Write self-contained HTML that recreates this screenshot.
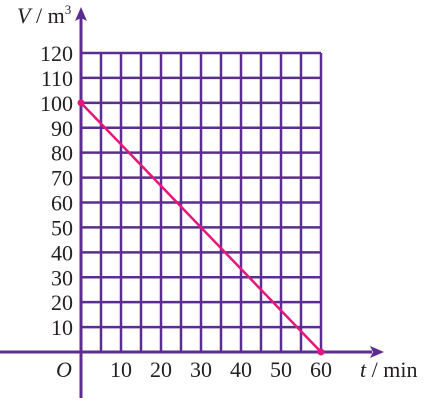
<!DOCTYPE html>
<html><head><meta charset="utf-8"><style>
html,body{margin:0;padding:0;background:#fff;}
svg text{font-family:"Liberation Serif",serif;font-size:22px;fill:#231f20;}
</style></head><body>
<svg width="440" height="406" viewBox="0 0 440 406">
<g id="grid"></g>
<g id="axes">
<line x1="0" y1="352" x2="372" y2="352" stroke="#5c2d91" stroke-width="3"/>
<polygon points="384,352 370,346 373,352 370,358" fill="#5c2d91"/>
<line x1="81" y1="398" x2="81" y2="18" stroke="#5c2d91" stroke-width="3"/>
<polygon points="81,7 75,21 81,18 87,21" fill="#5c2d91"/>
</g>
<g id="labels"></g>
<text x="17" y="23"><tspan font-style="italic">V</tspan> / m<tspan font-size="13" dy="-9">3</tspan></text>
<text x="360" y="377"><tspan font-style="italic">t</tspan> / min</text>
<text x="56" y="377" font-style="italic">O</text>
<g id="series"></g>
</svg>
<script>
const xTicks=[10,20,30,40,50,60];
const yTicks=[10,20,30,40,50,60,70,80,90,100,110,120];
const seriesT=[0,60];
const seriesV=[100,0];
const NS="http://www.w3.org/2000/svg";
const X=t=>81+t*4;
const Y=v=>352-v*299/120;
function mk(tag,attrs,parent){const e=document.createElementNS(NS,tag);for(const k in attrs)e.setAttribute(k,attrs[k]);parent.appendChild(e);return e;}
const grid=document.getElementById('grid');
for(let t=5;t<=60;t+=5){const l=mk('line',{x1:X(t),x2:X(t),y1:Y(120),y2:Y(0),stroke:'#5c2d91','stroke-width':2.5},grid);

}
yTicks.forEach(v=>{const l=mk('line',{x1:X(0),x2:X(60),y1:Y(v),y2:Y(v),stroke:'#5c2d91','stroke-width':2.5},grid);

});
const lab=document.getElementById('labels');
yTicks.forEach(v=>{const t=mk('text',{x:73,y:Y(v)+8,'text-anchor':'end'},lab);t.textContent=v;

});
xTicks.forEach(v=>{const t=mk('text',{x:X(v),y:377,'text-anchor':'middle'},lab);t.textContent=v;

});
const s=document.getElementById('series');
const pl=mk('polyline',{points:seriesT.map((t,i)=>X(t)+','+Y(seriesV[i])).join(' '),fill:'none',stroke:'#e5177b','stroke-width':2.5},s);


seriesT.forEach((t,i)=>{const c=mk('circle',{cx:X(t),cy:Y(seriesV[i]),r:3.5,fill:'#e5177b'},s);

});
</script>
</body></html>
